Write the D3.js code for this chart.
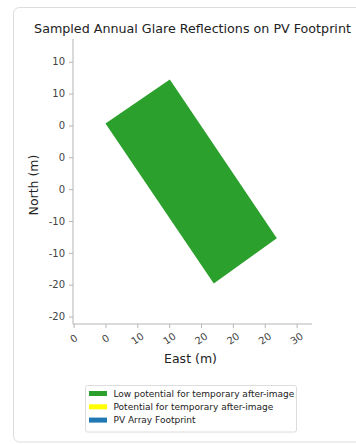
<!DOCTYPE html>
<html>
<head>
<meta charset="utf-8">
<script src="https://cdn.jsdelivr.net/npm/d3@7"></script>
<style>
  html, body { margin: 0; padding: 0; background: #fff; }
  svg { display: block; font-family: "DejaVu Sans", sans-serif; }
</style>
</head>
<body>
<svg id="chart" width="356" height="444"></svg>
<script>
// PV array footprint corners (East, North) in metres
const footprintEast = [0.0, 10.1, 26.9, 17.0];
const footprintNorth = [0.3, 7.2, -17.7, -24.8];

// Axis ticks and their printed labels
const xTickValues = [-5, 0, 5, 10, 15, 20, 25, 30];
const xTickLabels = ["0", "0", "10", "10", "20", "20", "20", "30"];
const yTickValues = [10, 5, 0, -5, -10, -15, -20, -25, -30];
const yTickLabels = ["10", "10", "0", "0", "0", "-10", "-10", "-20", "-20"];

// Legend entries
const legendLabels = [
  "Low potential for temporary after-image",
  "Potential for temporary after-image",
  "PV Array Footprint"
];
const legendColors = ["#2ca02c", "#ffff00", "#1f77b4"];

const svg = d3.select("#chart");

// card frame
svg.append("rect")
  .attr("x", 13.5).attr("y", 7.5)
  .attr("width", 350).attr("height", 434.5)
  .attr("rx", 6)
  .attr("fill", "#fff")
  .attr("stroke", "#dcdcdc");

const plot = { left: 73, right: 312, top: 39, bottom: 324 };

const x = d3.scaleLinear().domain([-5.10, 32.42]).range([plot.left, plot.right]);
const y = d3.scaleLinear().domain([-31.17, 13.57]).range([plot.bottom, plot.top]);

// title
svg.append("text")
  .attr("x", 192.5).attr("y", 33)
  .attr("text-anchor", "middle")
  .attr("font-size", 12.7)
  .attr("fill", "#222")
  .text("Sampled Annual Glare Reflections on PV Footprint");

// footprint polygon
const pts = footprintEast.map((e, i) => [x(e), y(footprintNorth[i])]);
svg.append("path")
  .attr("d", d3.line()(pts) + "Z")
  .attr("fill", legendColors[0]);

const axisColor = "#b5b5b5";
const textColor = "#444";

// x axis
const xAxis = svg.append("g")
  .attr("transform", `translate(0,${plot.bottom})`)
  .call(d3.axisBottom(x).tickValues(xTickValues).tickSize(4)
    .tickFormat((d, i) => xTickLabels[i]));
xAxis.select(".domain").attr("stroke", axisColor).attr("d", `M${plot.left},0H${plot.right}`);
xAxis.selectAll(".tick line").attr("stroke", axisColor);
xAxis.selectAll(".tick text")
  .attr("fill", textColor)
  .attr("font-size", 10)
  .attr("font-family", "DejaVu Sans, sans-serif")
  .attr("text-anchor", "middle")
  .attr("y", 0).attr("dy", 0)
  .attr("transform", "translate(0,15) rotate(-35)")
  .attr("dominant-baseline", "middle");

// y axis
const yAxis = svg.append("g")
  .attr("transform", `translate(${plot.left},0)`)
  .call(d3.axisLeft(y).tickValues(yTickValues).tickSize(4)
    .tickFormat((d, i) => yTickLabels[i]));
yAxis.select(".domain").attr("stroke", axisColor).attr("d", `M0,${plot.top}V${plot.bottom}`);
yAxis.selectAll(".tick line").attr("stroke", axisColor);
yAxis.selectAll(".tick text")
  .attr("fill", textColor)
  .attr("font-size", 10)
  .attr("font-family", "DejaVu Sans, sans-serif")
  .attr("x", -8);

// axis titles
svg.append("text")
  .attr("x", 190.5).attr("y", 363)
  .attr("text-anchor", "middle")
  .attr("font-size", 12.5)
  .attr("fill", "#222")
  .text("East (m)");

svg.append("text")
  .attr("transform", "translate(38,185) rotate(-90)")
  .attr("text-anchor", "middle")
  .attr("font-size", 12.5)
  .attr("fill", "#222")
  .text("North (m)");

// legend
const legend = svg.append("g").attr("transform", "translate(85.5,385.5)");
legend.append("rect")
  .attr("width", 211).attr("height", 46.5)
  .attr("rx", 2)
  .attr("fill", "#fff")
  .attr("stroke", "#dcdcdc");
const item = legend.selectAll("g.item")
  .data(legendLabels)
  .join("g")
  .attr("class", "item")
  .attr("transform", (d, i) => `translate(0,${8 + i * 13.3})`);
item.append("rect")
  .attr("x", 3.5).attr("y", -2.5)
  .attr("width", 18).attr("height", 5)
  .attr("fill", (d, i) => legendColors[i]);
item.append("text")
  .attr("x", 28).attr("y", 0)
  .attr("dy", "0.35em")
  .attr("font-size", 9)
  .attr("fill", "#222")
  .text(d => d);
</script>
</body>
</html>
